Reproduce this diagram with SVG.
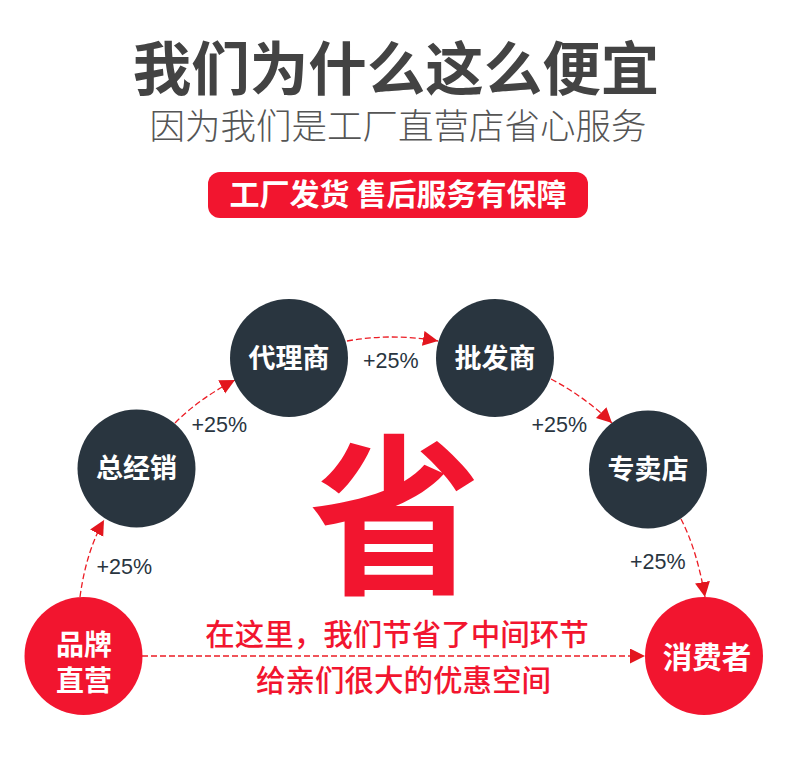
<svg xmlns="http://www.w3.org/2000/svg" width="790" height="762" viewBox="0 0 790 762">
<style>
.cjk{font-family:"Noto Sans CJK SC","Noto Sans",sans-serif}
.dark{fill:#29353f}
.red{fill:#f2152f}
.ntext{font-family:"Noto Sans CJK SC",sans-serif;font-weight:bold;fill:#fff;text-anchor:middle}
.pct{font-family:"Liberation Sans",Arial,sans-serif;font-size:21.5px;fill:#29353f}
.conn{fill:none;stroke:#ec1c24;stroke-width:1.3;stroke-dasharray:6 3}
</style>
<defs>
<marker id="arr" markerUnits="userSpaceOnUse" markerWidth="16" markerHeight="16" refX="15" refY="7.5" orient="auto">
<path d="M0,0 L15,7.5 L0,15 z" fill="#e3161e"/>
</marker>
</defs>
<rect width="790" height="762" fill="#fff"/>
<g id="header">
<text x="396" y="90" class="cjk" font-size="58.5" font-weight="bold" fill="#434343" text-anchor="middle">我们为什么这么便宜</text>
<text x="398" y="138.5" class="cjk" font-size="35.5" font-weight="300" fill="#555" text-anchor="middle">因为我们是工厂直营店省心服务</text>
</g>
<g id="badge">
<rect x="208" y="172" width="380" height="46" rx="12" fill="#f2152f"/>
<text x="398" y="205" class="cjk" font-size="30" font-weight="bold" fill="#fff" text-anchor="middle">工厂发货 售后服务有保障</text>
</g>
<g id="connectors">
<path class="conn" d="M80,597 Q86,552 104,520" marker-end="url(#arr)"/>
<path class="conn" d="M175,423 Q200,398 235,380" marker-end="url(#arr)"/>
<path class="conn" d="M347,341 Q392,333 438,341" marker-end="url(#arr)"/>
<path class="conn" d="M551,379 Q585,397 612,423" marker-end="url(#arr)"/>
<path class="conn" d="M681,519 Q697,550 705,597" marker-end="url(#arr)"/>
<path class="conn" d="M142,656 H645" marker-end="url(#arr)"/>
</g>
<g id="labels">
<text x="96.5" y="574" class="pct">+25%</text>
<text x="191.5" y="432" class="pct">+25%</text>
<text x="363" y="368" class="pct">+25%</text>
<text x="531.5" y="432" class="pct">+25%</text>
<text x="630" y="569" class="pct">+25%</text>
</g>
<g id="node-brand">
<circle cx="83.5" cy="656" r="59" class="red"/>
<text x="84" y="655" class="ntext" font-size="28">品牌</text>
<text x="84" y="691" class="ntext" font-size="28">直营</text>
</g>
<g id="node-general">
<circle cx="136.5" cy="468.5" r="59" class="dark"/>
<text x="136.5" y="478" class="ntext" font-size="27">总经销</text>
</g>
<g id="node-agent">
<circle cx="289" cy="358" r="59" class="dark"/>
<text x="289" y="368" class="ntext" font-size="27">代理商</text>
</g>
<g id="node-wholesale">
<circle cx="495" cy="358" r="59" class="dark"/>
<text x="495" y="368" class="ntext" font-size="27">批发商</text>
</g>
<g id="node-store">
<circle cx="648" cy="469.5" r="59" class="dark"/>
<text x="648" y="479" class="ntext" font-size="27">专卖店</text>
</g>
<g id="node-consumer">
<circle cx="704" cy="656" r="59" class="red"/>
<text x="707" y="668" class="ntext" font-size="29.5">消费者</text>
</g>
<g id="center">
<text x="395" y="580" class="cjk" font-size="172" font-weight="bold" fill="#f2152f" text-anchor="middle">省</text>
<text x="397" y="644.5" class="cjk" font-size="29.5" font-weight="500" fill="#f2152f" text-anchor="middle">在这里，我们节省了中间环节</text>
<text x="403.5" y="690.5" class="cjk" font-size="29.5" font-weight="500" fill="#f2152f" text-anchor="middle">给亲们很大的优惠空间</text>
</g>
</svg>
